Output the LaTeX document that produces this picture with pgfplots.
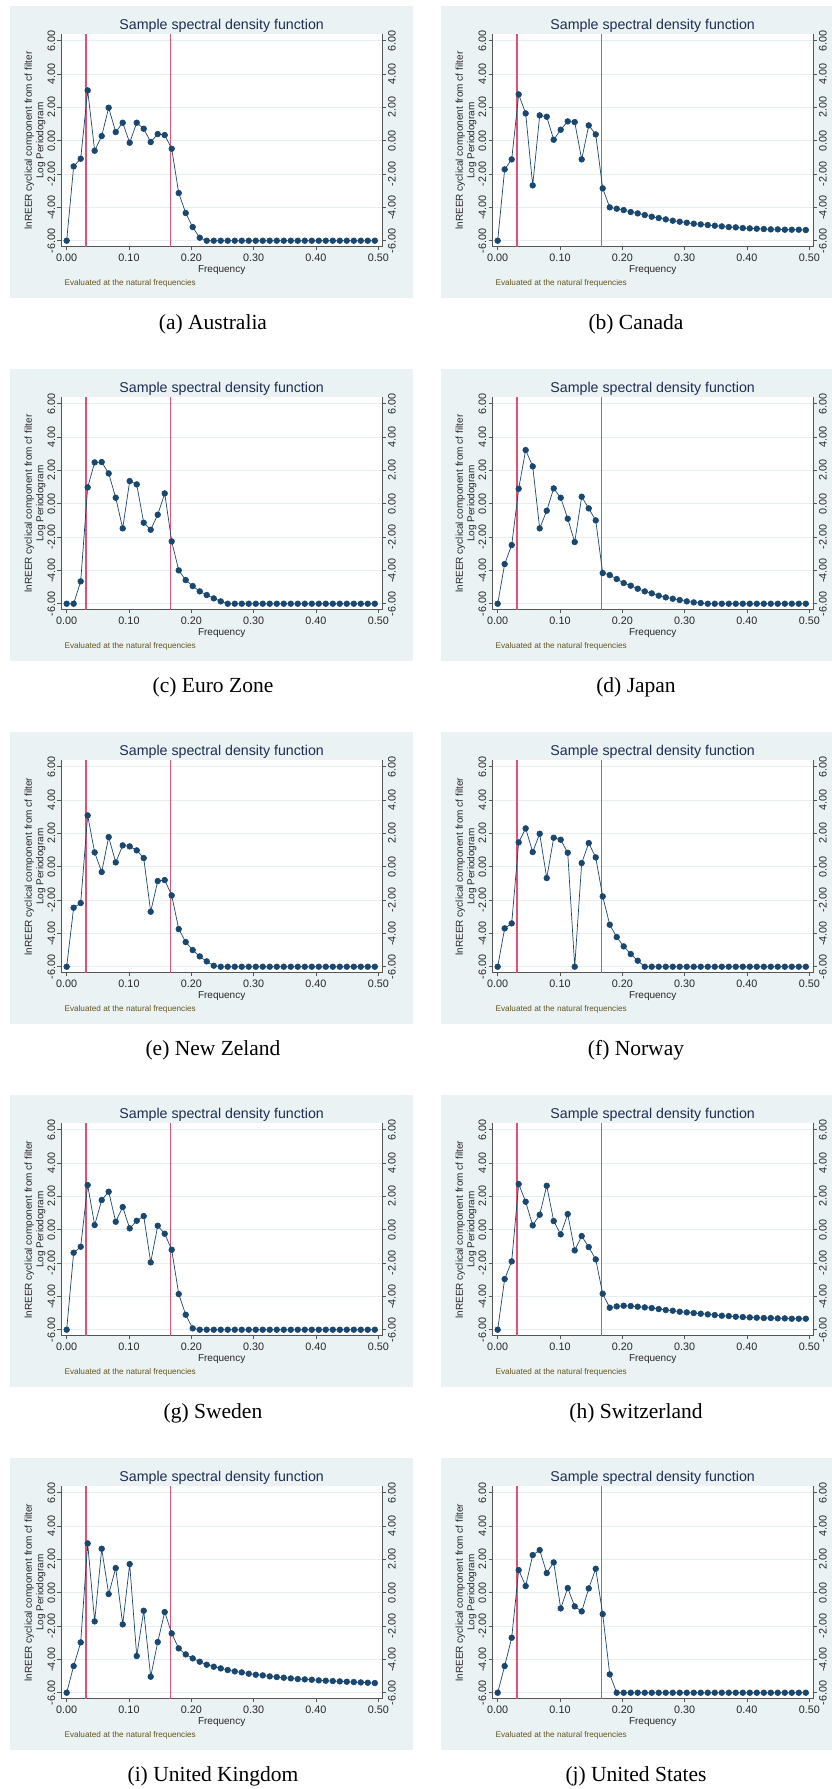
\documentclass[border=0pt]{standalone}
\usepackage{pgfplots}
\pgfplotsset{compat=1.18}
\usepackage{pgfplotstable}
\usepackage{fontspec}
\setmainfont{Liberation Sans}
\newfontfamily\capfont{Liberation Serif}
\definecolor{bgcol}{RGB}{234,242,243}
\definecolor{gridcol}{RGB}{230,238,240}
\definecolor{axcol}{RGB}{85,85,85}
\definecolor{navycol}{RGB}{26,71,111}
\definecolor{redcol}{RGB}{225,80,115}
\definecolor{titlecol}{RGB}{30,45,80}
\definecolor{notecol}{RGB}{100,85,30}

\pgfplotstableread{
f au ca ez jp nz no se ch uk us
0.0000 -6 -6 -6 -6 -6 -6 -6 -6 -6 -6
0.0112 -1.54 -1.72 -6 -3.62 -2.46 -3.70 -1.38 -2.96 -4.40 -4.40
0.0225 -1.08 -1.12 -4.66 -2.48 -2.18 -3.40 -1.02 -1.90 -2.98 -2.70
0.0337 3.02 2.78 0.98 0.90 3.08 1.46 2.68 2.74 2.96 1.36
0.0449 -0.60 1.64 2.48 3.22 0.86 2.30 0.28 1.68 -1.72 0.40
0.0562 0.28 -2.68 2.50 2.24 -0.32 0.88 1.78 0.26 2.64 2.26
0.0674 1.98 1.52 1.82 -1.48 1.78 1.98 2.28 0.90 -0.08 2.56
0.0787 0.52 1.44 0.36 -0.42 0.26 -0.68 0.48 2.64 1.48 1.18
0.0899 1.08 0.06 -1.48 0.92 1.28 1.74 1.36 0.52 -1.90 1.82
0.1011 -0.12 0.66 1.36 0.36 1.22 1.62 0.08 -0.28 1.72 -0.94
0.1124 1.08 1.16 1.16 -0.90 0.98 0.84 0.54 0.94 -3.80 0.28
0.1236 0.72 1.12 -1.14 -2.30 0.52 -6.00 0.82 -1.24 -1.08 -0.82
0.1348 -0.08 -1.12 -1.56 0.42 -2.70 0.22 -1.96 -0.38 -5.04 -1.12
0.1461 0.40 0.92 -0.66 -0.28 -0.86 1.42 0.24 -1.04 -2.96 0.26
0.1573 0.34 0.38 0.62 -1.00 -0.80 0.56 -0.24 -1.78 -1.16 1.44
0.1685 -0.48 -2.86 -2.26 -4.16 -1.72 -1.78 -1.20 -3.84 -2.44 -1.28
0.1798 -3.14 -4.00 -4.00 -4.28 -3.74 -3.48 -3.86 -4.68 -3.34 -4.90
0.1910 -4.34 -4.08 -4.58 -4.52 -4.52 -4.22 -5.10 -4.60 -3.70 -6
0.2022 -5.18 -4.16 -4.94 -4.76 -5.00 -4.78 -5.92 -4.56 -3.94 -6
0.2135 -5.82 -4.28 -5.26 -4.92 -5.38 -5.24 -6 -4.58 -4.14 -6
0.2247 -6 -4.36 -5.48 -5.10 -5.68 -5.64 -6 -4.62 -4.32 -6
0.2360 -6 -4.46 -5.68 -5.26 -5.94 -6 -6 -4.66 -4.44 -6
0.2472 -6 -4.56 -5.86 -5.38 -6 -6 -6 -4.70 -4.54 -6
0.2584 -6 -4.64 -6 -5.52 -6 -6 -6 -4.76 -4.64 -6
0.2697 -6 -4.72 -6 -5.62 -6 -6 -6 -4.82 -4.72 -6
0.2809 -6 -4.80 -6 -5.70 -6 -6 -6 -4.86 -4.78 -6
0.2921 -6 -4.86 -6 -5.78 -6 -6 -6 -4.92 -4.86 -6
0.3034 -6 -4.92 -6 -5.86 -6 -6 -6 -4.96 -4.92 -6
0.3146 -6 -4.98 -6 -5.92 -6 -6 -6 -5.00 -4.96 -6
0.3258 -6 -5.02 -6 -5.96 -6 -6 -6 -5.04 -5.02 -6
0.3371 -6 -5.06 -6 -6 -6 -6 -6 -5.08 -5.06 -6
0.3483 -6 -5.10 -6 -6 -6 -6 -6 -5.12 -5.10 -6
0.3596 -6 -5.14 -6 -6 -6 -6 -6 -5.16 -5.14 -6
0.3708 -6 -5.18 -6 -6 -6 -6 -6 -5.18 -5.18 -6
0.3820 -6 -5.20 -6 -6 -6 -6 -6 -5.22 -5.20 -6
0.3933 -6 -5.24 -6 -6 -6 -6 -6 -5.24 -5.22 -6
0.4045 -6 -5.26 -6 -6 -6 -6 -6 -5.26 -5.26 -6
0.4157 -6 -5.28 -6 -6 -6 -6 -6 -5.28 -5.28 -6
0.4270 -6 -5.30 -6 -6 -6 -6 -6 -5.30 -5.30 -6
0.4382 -6 -5.32 -6 -6 -6 -6 -6 -5.30 -5.32 -6
0.4494 -6 -5.32 -6 -6 -6 -6 -6 -5.32 -5.34 -6
0.4607 -6 -5.34 -6 -6 -6 -6 -6 -5.32 -5.36 -6
0.4719 -6 -5.34 -6 -6 -6 -6 -6 -5.34 -5.38 -6
0.4831 -6 -5.34 -6 -6 -6 -6 -6 -5.34 -5.40 -6
0.4944 -6 -5.36 -6 -6 -6 -6 -6 -5.34 -5.42 -6
}\spec

\pgfplotsset{
  spdbase/.style={
    scale only axis, width=321.3pt, height=212.3pt, anchor=south west,
    xmin=-0.0091, xmax=0.5064, ymin=-6.36, ymax=6.38,
    tick align=outside, major tick length=3.5pt,
    tick style={draw=axcol, line width=0.6pt},
    axis line style={draw=axcol, line width=0.6pt},
    ytick={-6,-4,-2,0,2,4,6},
    yticklabels={-6.00,-4.00,-2.00,0.00,2.00,4.00,6.00},
    ticklabel style={font=\fontsize{10.8}{12}\selectfont, text=black!85},
  },
}

\newcommand{\panel}[5]{%
  \fill[bgcol] (#1pt,-#2pt) rectangle ++(403pt,-292pt);
  \begin{axis}[spdbase,
    at={({#1pt+51pt},{-#2pt-240.7pt})},
    axis background/.style={fill=white},
    axis x line*=bottom, axis y line*=left,
    xtick={0,0.1,0.2,0.3,0.4,0.5},
    xticklabels={0.00,0.10,0.20,0.30,0.40,0.50},
    yticklabel style={rotate=90, anchor=south, inner sep=2pt},
    ymajorgrids, grid style={draw=gridcol, line width=0.7pt},
    clip=false]
    \addplot[redcol, line width=1.8pt] coordinates {(0.03125,-6.36) (0.03125,6.38)};
    \addplot[redcol, line width=1.8pt] coordinates {(0.16667,-6.36) (0.16667,6.38)};
    \addplot[navycol, line width=0.7pt, mark=*, mark size=2.8pt,
      mark options={fill=navycol, draw=navycol}] table[x=f, y=#3]{\spec};
    \node[anchor=base, font=\fontsize{14.2}{16}\selectfont, text=titlecol, yshift=5pt]
      at (rel axis cs:0.5,1) {Sample spectral density function};
    \node[anchor=base, font=\fontsize{10}{12}\selectfont, text=black!85, yshift=-25.3pt]
      at (rel axis cs:0.5,0) {Frequency};
    \node[anchor=base west, font=\fontsize{8.2}{10}\selectfont, text=notecol, yshift=-38.8pt]
      at (rel axis cs:0,0) {Evaluated at the natural frequencies};
    \node[xshift=-26pt, rotate=90, align=center, font=\fontsize{10}{11.5}\selectfont, text=black!85]
      at (rel axis cs:0,0.5) {lnREER cyclical component from cf filter\\Log Periodogram};
  \end{axis}
  \begin{axis}[spdbase,
    at={({#1pt+51pt},{-#2pt-240.7pt})},
    axis x line=none, axis y line*=right,
    xtick=\empty,
    yticklabel style={rotate=90, anchor=north, inner sep=2pt}]
  \end{axis}
  \node[anchor=base, font=\capfont\fontsize{21.5}{24}\selectfont] at (#4pt,{-#2pt-323pt}) {#5};
}

\begin{document}
\begin{tikzpicture}
\useasboundingbox (0,0) rectangle (831pt,-1789pt);
\panel{10}{6}{au}{213}{(a) Australia}
\panel{441}{6}{ca}{636}{(b) Canada}
\panel{10}{369}{ez}{213}{(c) Euro Zone}
\panel{441}{369}{jp}{636}{(d) Japan}
\panel{10}{732}{nz}{213}{(e) New Zeland}
\panel{441}{732}{no}{636}{(f) Norway}
\panel{10}{1095}{se}{213}{(g) Sweden}
\panel{441}{1095}{ch}{636}{(h) Switzerland}
\panel{10}{1458}{uk}{213}{(i) United Kingdom}
\panel{441}{1458}{us}{636}{(j) United States}
\end{tikzpicture}
\end{document}
